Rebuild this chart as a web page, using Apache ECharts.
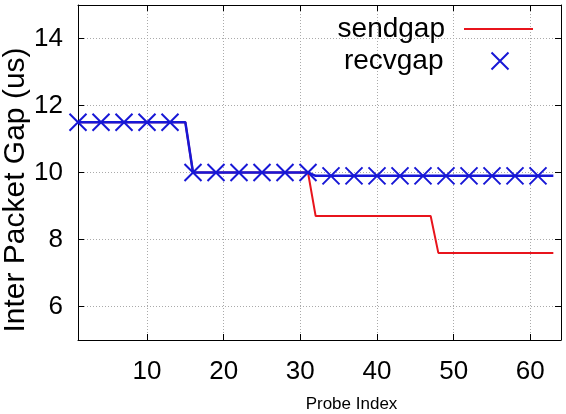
<!DOCTYPE html>
<html>
<head>
<meta charset="utf-8">
<script src="https://cdn.jsdelivr.net/npm/echarts@6/dist/echarts.min.js"></script>
<style>
html, body { margin: 0; padding: 0; background: #fff; }
#chart { width: 566px; height: 414px; }
</style>
</head>
<body>
<div id="chart"></div>
<script>
// probe index 1..63
var probeIndex = [
	1, 2, 3, 4, 5, 6, 7, 8, 9, 10, 11, 12, 13, 14, 15, 16, 17, 18, 19, 20, 21,
	22, 23, 24, 25, 26, 27, 28, 29, 30, 31, 32, 33, 34, 35, 36, 37, 38, 39, 40, 41, 42,
	43, 44, 45, 46, 47, 48, 49, 50, 51, 52, 53, 54, 55, 56, 57, 58, 59, 60, 61, 62, 63
];
var sendgap = [
	11.5, 11.5, 11.5, 11.5, 11.5, 11.5, 11.5, 11.5, 11.5, 11.5, 11.5, 11.5, 11.5, 11.5, 11.5,
	10.0, 10.0, 10.0, 10.0, 10.0, 10.0, 10.0, 10.0, 10.0, 10.0, 10.0, 10.0, 10.0, 10.0, 10.0, 10.0,
	8.7, 8.7, 8.7, 8.7, 8.7, 8.7, 8.7, 8.7, 8.7, 8.7, 8.7, 8.7, 8.7, 8.7, 8.7, 8.7,
	7.6, 7.6, 7.6, 7.6, 7.6, 7.6, 7.6, 7.6, 7.6, 7.6, 7.6, 7.6, 7.6, 7.6, 7.6, 7.6
];
var recvgap = [
	11.5, 11.5, 11.5, 11.5, 11.5, 11.5, 11.5, 11.5, 11.5, 11.5, 11.5, 11.5, 11.5, 11.5, 11.5,
	10.0, 10.0, 10.0, 10.0, 10.0, 10.0, 10.0, 10.0, 10.0, 10.0, 10.0, 10.0, 10.0, 10.0, 10.0, 10.0,
	9.9, 9.9, 9.9, 9.9, 9.9, 9.9, 9.9, 9.9, 9.9, 9.9, 9.9, 9.9, 9.9, 9.9, 9.9, 9.9,
	9.9, 9.9, 9.9, 9.9, 9.9, 9.9, 9.9, 9.9, 9.9, 9.9, 9.9, 9.9, 9.9, 9.9, 9.9, 9.9
];
var xTicks = [10, 20, 30, 40, 50, 60];
var yTicks = [6, 8, 10, 12, 14];
var markerEvery = 3; // gnuplot pointinterval

var FONT = '"Liberation Sans", Arial, sans-serif';
var RED = '#e8141c';
var BLUE = '#1717d6';
var crossPath = 'path://M0,0L10,10M10,0L0,10';

function pairs(ys) {
	var out = [];
	for (var i = 0; i < probeIndex.length; i++) out.push([probeIndex[i], ys[i]]);
	return out;
}

var myChart = echarts.init(document.getElementById('chart'));

var gridLine = { show: true, lineStyle: { color: '#aaa', type: [1, 2], width: 1 } };
var inTick = { show: true, inside: true, length: 6, lineStyle: { color: '#000' } };

var option = {
	animation: false,
	backgroundColor: '#fff',
	grid: { left: 78, right: 5, top: 5, bottom: 74, show: false, containLabel: false, outerBoundsMode: 'none' },
	legend: [
		{
			data: ['sendgap'],
			right: 28, top: 10,
			align: 'right',
			itemWidth: 69, itemHeight: 22,
			icon: 'path://M0,10L69,10L69,12L0,12Z',
			textStyle: { fontFamily: FONT, fontSize: 28, color: '#000', padding: [0, 14, 0, 0] },
			selectedMode: false
		},
		{
			data: [{ name: 'recvgap', icon: crossPath, itemStyle: { color: 'none', borderColor: BLUE, borderWidth: 2 } }],
			right: 50, top: 42,
			align: 'right',
			itemWidth: 17, itemHeight: 17,
			textStyle: { fontFamily: FONT, fontSize: 28, color: '#000', padding: [0, 43, 0, 0] },
			selectedMode: false
		}
	],
	xAxis: [
		{
			type: 'value', min: 1, max: 64,
			name: 'Probe Index', nameLocation: 'middle', nameGap: 56, nameMoveOverlap: false,
			nameTextStyle: { fontFamily: FONT, fontSize: 17, color: '#000', padding: [0, 0, 0, 64] },
			axisLine: { show: true, onZero: false, lineStyle: { color: '#000', width: 1 } },
			axisTick: Object.assign({ customValues: xTicks }, inTick),
			axisLabel: { customValues: xTicks, fontFamily: FONT, fontSize: 26, color: '#000', margin: 19 },
			splitLine: gridLine
		},
		{
			type: 'value', min: 1, max: 64, position: 'top',
			axisLine: { show: true, onZero: false, lineStyle: { color: '#000', width: 1 } },
			axisTick: Object.assign({ customValues: xTicks }, inTick),
			axisLabel: { show: false },
			splitLine: { show: false }
		}
	],
	yAxis: [
		{
			type: 'value', min: 5, max: 15,
			name: 'Inter Packet Gap (us)', nameLocation: 'middle', nameGap: 47, nameRotate: 90, nameMoveOverlap: false,
			nameTextStyle: { fontFamily: FONT, fontSize: 30, color: '#000', padding: [0, 35, 0, 0] },
			axisLine: { show: true, onZero: false, lineStyle: { color: '#000', width: 1 } },
			axisTick: Object.assign({ customValues: yTicks }, inTick),
			axisLabel: { customValues: yTicks, fontFamily: FONT, fontSize: 26, color: '#000', margin: 15 },
			splitLine: gridLine
		},
		{
			type: 'value', min: 5, max: 15, position: 'right',
			axisLine: { show: true, onZero: false, lineStyle: { color: '#000', width: 1 } },
			axisTick: Object.assign({ customValues: yTicks }, inTick),
			axisLabel: { show: false },
			splitLine: { show: false }
		}
	],
	series: [
		{
			name: 'sendgap',
			type: 'line',
			data: pairs(sendgap),
			showSymbol: false,
			symbol: 'none',
			lineStyle: { color: RED, width: 2 },
			itemStyle: { color: RED },
			z: 2
		},
		{
			name: 'recvgap',
			type: 'line',
			data: pairs(recvgap),
			showAllSymbol: true,
			symbol: function (value, params) {
				return (params.dataIndex % markerEvery === 0) ? crossPath : 'none';
			},
			symbolSize: 17,
			lineStyle: { color: BLUE, width: 2.5 },
			itemStyle: { color: 'none', borderColor: BLUE, borderWidth: 2 },
			z: 3
		}
	]
};

myChart.setOption(option);
</script>
</body>
</html>
